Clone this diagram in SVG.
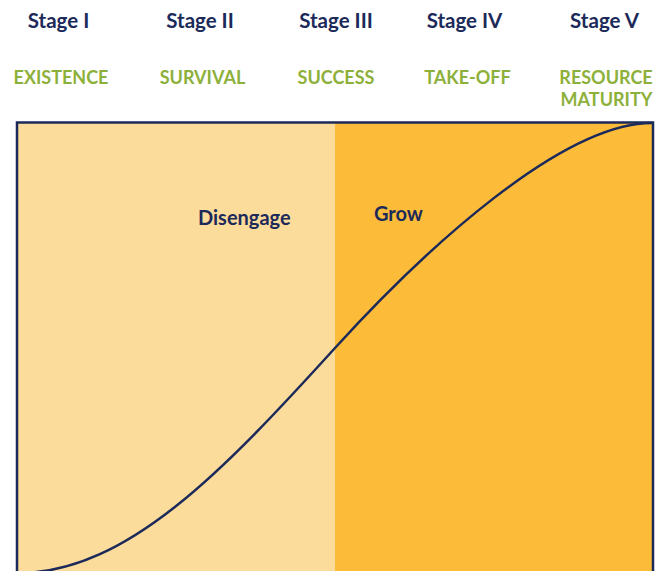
<svg xmlns="http://www.w3.org/2000/svg" width="667" height="571" viewBox="0 0 667 571">
  <style>
    .stage { font-family: Lato, "Open Sans", "Liberation Sans", sans-serif; font-weight: 700; font-size: 20.5px; fill: #1C2A5A; text-anchor: middle; }
    .phase { font-family: Lato, "Open Sans", "Liberation Sans", sans-serif; font-weight: 700; font-size: 18px; fill: #8DB03A; text-anchor: middle; }
    .zone  { font-family: Lato, "Open Sans", "Liberation Sans", sans-serif; font-weight: 700; font-size: 20px; fill: #1C2A5A; }
    .frame { fill: none; stroke: #1C2A5A; stroke-width: 2.5; }
    .curve { fill: none; stroke: #1C2A5A; stroke-width: 2.5; }
  </style>

  <rect width="667" height="571" fill="#FFFFFF"/>

  <!-- stage headings -->
  <g id="stage-1"><text class="stage" x="58.5" y="27.5">Stage I</text><text class="phase" x="61" y="84">EXISTENCE</text></g>
  <g id="stage-2"><text class="stage" x="200" y="27.5">Stage II</text><text class="phase" x="202.5" y="84">SURVIVAL</text></g>
  <g id="stage-3"><text class="stage" x="336" y="27.5">Stage III</text><text class="phase" x="336" y="84">SUCCESS</text></g>
  <g id="stage-4"><text class="stage" x="464.5" y="27.5">Stage IV</text><text class="phase" x="467.5" y="84">TAKE-OFF</text></g>
  <g id="stage-5"><text class="stage" x="604.5" y="27.5">Stage V</text><text class="phase" x="606" y="84">RESOURCE</text><text class="phase" x="606.5" y="106">MATURITY</text></g>

  <!-- chart zones -->
  <g id="zone-disengage">
    <rect x="17" y="122" width="318" height="460" fill="#FCDC9B"/>
    <text class="zone" x="198" y="224.5">Disengage</text>
  </g>
  <g id="zone-grow">
    <rect x="335" y="122" width="318" height="460" fill="#FCBC3A"/>
    <text class="zone" x="374" y="220.5">Grow</text>
  </g>
  <path class="frame" d="M17,582 V122.5 H653 V582"/>

  <!-- growth curve -->
  <g id="connectors">
    <path class="curve" d="M20,573 C128,572 225,469 335,348 C425,249 562,123 652,123"/>
  </g>
</svg>
